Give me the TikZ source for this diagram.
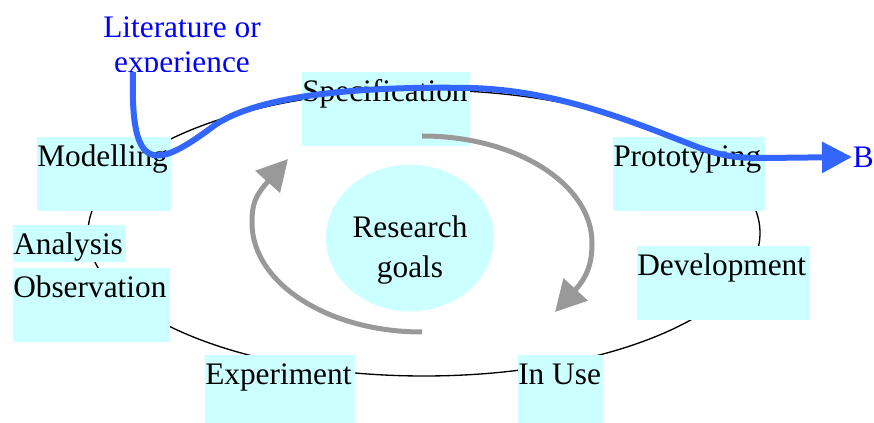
\documentclass[tikz,border=0pt]{standalone}
\usepackage{fontspec}
\setmainfont{Liberation Serif}
\usetikzlibrary{arrows.meta,shapes.geometric}
\definecolor{stagecyan}{RGB}{204,255,255}
\definecolor{goalgray}{RGB}{153,153,153}
\definecolor{pathblue}{RGB}{51,102,255}
\definecolor{labelblue}{RGB}{0,0,255}
\newcommand{\stagetext}[3]{\parbox[t][#2][t]{#1}{\rule{0pt}{22pt}#3}}
\tikzset{
  stage/.style={fill=stagecyan, inner sep=0pt, anchor=north west},
  goal/.style={ellipse, fill=stagecyan, inner sep=0pt, minimum width=126pt, minimum height=110pt},
  goalarrow/.style={draw=goalgray, line width=3.75pt, -{Triangle[length=23pt,width=24pt]}},
  bluearrow/.style={draw=pathblue, line width=4.5pt, -{Triangle[length=22.5pt,width=22.5pt]}},
  bluetext/.style={text=labelblue, align=center}
}

\begin{document}
\begin{tikzpicture}[x=0.75pt,y=0.75pt,yscale=-1,xscale=1,font=\fontsize{23.5}{26.25}\selectfont]
\useasboundingbox (0,0) rectangle (874,423);
% outer cycle
\draw[line width=1pt] (424,233) ellipse [x radius=336, y radius=143];
% stages
\node[stage] (spec) at (302,72) {\stagetext{126pt}{55.5pt}{Specification}};
\node[stage] (model) at (37,137) {\stagetext{100.5pt}{55.5pt}{Modelling}};
\node[stage] (proto) at (613,137) {\stagetext{114pt}{55.5pt}{Prototyping}};
\node[stage] (devel) at (637,246) {\stagetext{129.75pt}{55.5pt}{Development}};
\node[stage] (analysis) at (13,225) {\stagetext{84.75pt}{27.75pt}{Analysis}};
\node[stage] (observ) at (13,268) {\stagetext{117.75pt}{55.5pt}{Observation}};
\node[stage] (exper) at (205,355) {\stagetext{112.5pt}{51pt}{Experiment}};
\node[stage] (inuse) at (518,355) {\stagetext{63.75pt}{51pt}{In Use}};
% centre
\node[goal] (goals) at (410,238) {};
\node[align=center, font=\fontsize{23.5}{30}\selectfont] (goalstext) at (410,250) {Research\\goals};
\draw[goalarrow] (422,136) .. controls (516,136) and (592,184) .. (592,243) .. controls (592,262) and (588,276) .. (555,312);
\draw[goalarrow] (422,332) .. controls (328,332) and (252,283) .. (252,223) .. controls (252,204) and (255,196) .. (288,159);
% input and output
\begin{scope}
  \clip (0,0) rectangle (874,72);
  \node[bluetext, anchor=north, inner sep=0pt] (lit) at (182,16) {Literature or\\experience};
\end{scope}
\coordinate (litend) at (133,72);
\node[text=labelblue, anchor=west, inner sep=0.5pt] (B) at (852,157) {B};
\draw[bluearrow] (litend) .. controls (130,175) and (155,170) .. (215,125) .. controls (260,95) and (360,86) .. (470,88) .. controls (560,90) and (640,125) .. (700,148) .. controls (725,157) and (740,158) .. (765,158) -- (B.west);
\end{tikzpicture}
\end{document}
